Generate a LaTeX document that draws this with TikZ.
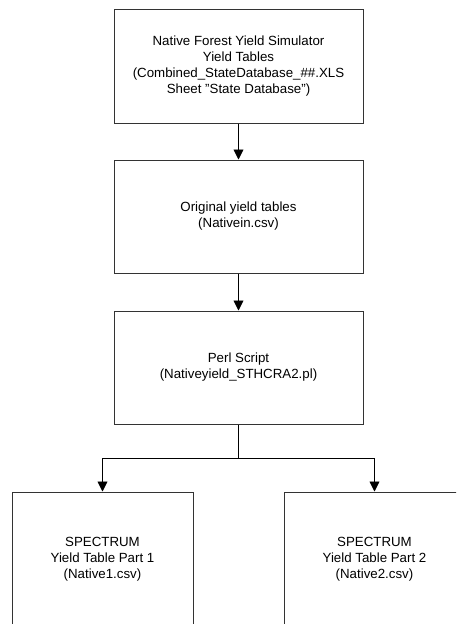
\documentclass[tikz,border=0pt]{standalone}
\usepackage{fontspec}
\setmainfont{Liberation Sans}
\usetikzlibrary{arrows.meta}
\newcommand{\dq}{\symbol{34}}
\begin{document}
\begin{tikzpicture}[x=1pt,y=-1pt,
  box/.style={draw=black!80,line width=1pt,fill=white,rectangle,inner sep=0pt,
    align=center,font=\fontsize{13.3}{16}\selectfont},
  flow/.style={draw=black,line width=0.9pt,-{Triangle[length=10pt,width=10pt]}},
  link/.style={draw=black,line width=0.9pt}]
\useasboundingbox (0,0) rectangle (456,624);
\begin{scope}
\clip (0,0) rectangle (456,624);
\node[box,minimum width=249pt,minimum height=114pt] (nfys) at (238.5,66)
  {Native Forest Yield Simulator\\Yield Tables\\(Combined\_StateDatabase\_\#\#.XLS\\Sheet \dq State Database\dq)};
\node[box,minimum width=249pt,minimum height=113pt] (orig) at (238.5,216.5)
  {Original yield tables\\(Nativein.csv)};
\node[box,minimum width=249pt,minimum height=113pt] (perl) at (238.5,367.5)
  {Perl Script\\(Nativeyield\_STHCRA2.pl)};
\node[box,minimum width=181pt,minimum height=134pt] (part1) at (102.5,559)
  {SPECTRUM\\Yield Table Part 1\\(Native1.csv)};
\node[box,minimum width=181pt,minimum height=134pt] (part2) at (374.5,559)
  {SPECTRUM\\Yield Table Part 2\\(Native2.csv)};
\coordinate (split) at (238.5,458.5);
\draw[flow] (nfys.south) -- (orig.north);
\draw[flow] (orig.south) -- (perl.north);
\draw[link] (perl.south) -- (split);
\draw[flow] (split) -| (part1.north);
\draw[flow] (split) -| (part2.north);
\end{scope}
\end{tikzpicture}
\end{document}
